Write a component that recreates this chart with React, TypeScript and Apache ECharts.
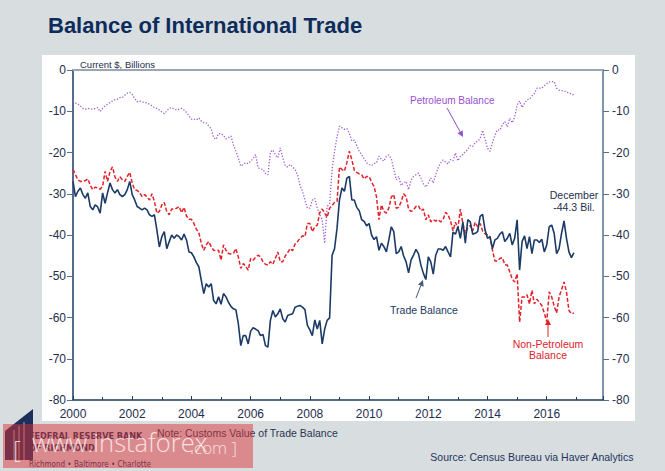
import { useEffect, useRef } from 'react';
import * as echarts from 'echarts';

// monthly values, Jan 2000 .. Dec 2016, $ billions
const START_YEAR = 2000;

const TRADE = [
  -27.0, -30.7, -29.4, -28.6, -30.2, -31.1, -29.8, -33.1, -33.9, -32.7, -33.2, -34.7,
  -29.8, -32.3, -29.8, -27.4, -29.0, -29.8, -29.0, -30.2, -30.7, -30.2, -29.0, -27.0,
  -30.2, -31.5, -33.1, -33.5, -33.9, -33.5, -33.9, -35.1, -35.5, -35.1, -38.8, -42.9,
  -40.4, -39.2, -43.3, -41.6, -40.0, -40.8, -40.0, -40.4, -41.2, -39.8, -41.2, -44.1,
  -44.3, -45.3, -46.7, -47.7, -51.0, -54.2, -51.8, -52.6, -51.8, -55.9, -56.7, -55.0,
  -56.8, -54.2, -55.0, -56.3, -57.3, -57.9, -58.1, -61.5, -66.8, -64.4, -64.4, -66.4,
  -63.3, -62.5, -62.8, -63.2, -64.4, -64.1, -66.8, -67.2, -60.7, -58.3, -59.9, -59.1,
  -57.9, -60.3, -61.1, -59.5, -59.3, -59.1, -57.5, -57.3, -57.1, -57.5, -58.1, -61.9,
  -63.0, -64.4, -60.6, -62.8, -60.7, -66.4, -62.8, -60.7, -60.1, -44.9, -43.3, -38.4,
  -31.5, -28.6, -29.4, -26.2, -25.8, -31.5, -31.5, -33.3, -34.1, -36.3, -36.7, -37.8,
  -37.2, -40.0, -41.1, -40.4, -43.7, -42.0, -42.8, -44.1, -41.2, -38.0, -39.2, -44.5,
  -44.1, -42.8, -45.1, -46.5, -49.2, -46.1, -44.9, -43.5, -44.5, -47.3, -49.3, -50.8,
  -45.3, -46.5, -49.5, -44.9, -43.4, -43.4, -43.7, -42.8, -44.1, -45.3, -39.3, -39.8,
  -38.0, -40.8, -36.8, -42.0, -36.3, -36.8, -39.8, -39.6, -39.2, -35.5, -35.0, -38.8,
  -40.8, -40.4, -43.3, -41.2, -40.8, -39.8, -39.2, -41.6, -40.8, -39.6, -42.4, -40.8,
  -36.3, -48.5, -41.6, -40.2, -43.3, -40.4, -44.5, -41.2, -41.2, -41.8, -41.0, -44.1,
  -42.4, -38.0, -37.6, -39.6, -44.5, -43.3, -39.6, -36.6, -40.8, -44.1, -45.5, -44.3,
];

const NON_PETRO = [
  -24.1, -25.4, -26.6, -27.0, -27.0, -26.8, -26.4, -28.0, -29.0, -28.4, -28.6, -28.9,
  -28.2, -24.6, -27.0, -24.6, -23.5, -25.9, -27.0, -25.9, -26.6, -27.0, -25.8, -24.8,
  -27.4, -29.0, -29.2, -29.7, -30.7, -30.2, -30.8, -31.5, -30.0, -31.9, -34.7, -34.3,
  -32.7, -32.1, -34.3, -35.1, -33.7, -33.7, -33.5, -33.1, -34.6, -33.3, -35.4, -36.2,
  -36.2, -37.2, -38.6, -39.4, -42.0, -43.7, -42.4, -41.6, -42.8, -43.7, -43.8, -43.7,
  -46.1, -42.4, -43.7, -44.5, -44.6, -44.5, -43.3, -45.3, -48.1, -46.9, -47.6, -48.5,
  -45.7, -46.1, -45.4, -44.9, -45.3, -46.5, -47.1, -47.3, -46.5, -47.1, -45.7, -44.1,
  -46.5, -46.5, -45.1, -44.3, -43.3, -43.8, -42.2, -41.6, -40.8, -40.2, -40.4, -37.2,
  -37.2, -39.2, -38.0, -37.6, -34.6, -33.7, -34.7, -35.7, -33.5, -32.9, -32.1, -31.9,
  -23.5, -24.1, -24.5, -22.4, -19.7, -21.7, -24.3, -24.8, -25.2, -25.4, -26.4, -25.8,
  -25.8, -27.2, -28.2, -30.7, -36.3, -32.7, -34.3, -34.7, -33.5, -30.8, -30.2, -33.5,
  -33.3, -31.9, -30.0, -30.7, -33.7, -34.3, -33.9, -33.1, -32.9, -34.1, -33.7, -36.3,
  -35.1, -36.8, -36.3, -36.6, -36.3, -36.8, -36.3, -34.5, -35.1, -36.6, -39.0, -36.9,
  -38.4, -33.7, -37.2, -39.6, -38.2, -37.7, -39.0, -36.9, -38.0, -37.2, -39.0, -39.7,
  -40.0, -40.4, -43.7, -46.3, -46.3, -45.7, -45.5, -47.2, -47.3, -48.9, -50.7, -51.4,
  -49.4, -61.1, -55.0, -55.0, -54.5, -56.7, -53.4, -56.7, -55.6, -56.3, -57.1, -58.9,
  -61.0, -53.8, -55.0, -57.2, -58.9, -55.0, -53.2, -51.4, -53.8, -58.3, -59.1, -58.9,
];

const PETRO = [
  -7.5, -8.0, -8.3, -8.7, -9.3, -9.5, -9.3, -9.5, -9.5, -9.3, -9.1, -10.1,
  -9.3, -8.7, -8.3, -7.9, -7.5, -7.2, -7.1, -6.7, -6.7, -6.1, -5.6, -5.4,
  -5.9, -6.9, -7.7, -7.5, -7.7, -7.9, -8.0, -8.3, -8.7, -9.1, -9.3, -9.7,
  -10.2, -10.6, -9.9, -9.3, -9.1, -9.5, -9.7, -9.5, -9.3, -9.7, -10.3, -11.1,
  -11.9, -11.9, -12.1, -11.6, -12.4, -12.8, -12.8, -13.6, -14.2, -16.4, -16.8, -15.4,
  -15.4, -15.9, -16.7, -16.4, -16.0, -18.1, -19.7, -21.3, -23.3, -22.9, -22.5, -22.7,
  -22.1, -21.5, -20.5, -23.7, -24.0, -24.1, -25.1, -25.4, -19.9, -19.4, -20.5, -21.3,
  -18.9, -21.3, -23.2, -23.5, -22.9, -23.5, -24.1, -25.4, -28.0, -29.4, -31.5, -33.5,
  -33.5, -31.6, -31.1, -33.5, -35.1, -36.3, -42.0, -33.1, -32.4, -24.1, -19.7, -16.2,
  -13.6, -14.0, -14.4, -14.2, -15.4, -17.2, -17.0, -18.3, -19.7, -20.5, -21.5, -22.5,
  -22.9, -23.2, -22.7, -22.5, -20.9, -21.7, -22.1, -20.9, -20.6, -21.5, -24.1, -26.6,
  -25.8, -28.0, -27.4, -27.0, -29.0, -26.7, -25.8, -25.4, -25.0, -26.2, -27.6, -28.4,
  -27.4, -26.2, -27.4, -25.4, -23.7, -22.5, -21.8, -22.3, -22.8, -21.7, -22.0, -20.1,
  -22.0, -20.9, -20.5, -19.8, -19.3, -18.3, -18.5, -17.6, -17.2, -16.7, -14.6, -16.8,
  -19.0, -19.7, -17.6, -15.8, -14.5, -14.6, -13.3, -12.5, -13.8, -11.7, -12.8, -11.4,
  -8.5, -7.5, -9.1, -8.1, -7.2, -7.1, -6.3, -5.7, -4.4, -4.4, -4.4, -3.8,
  -3.3, -2.9, -2.8, -2.8, -4.4, -4.9, -5.0, -5.0, -5.4, -5.5, -5.9, -6.0,
];

const Y_MIN = -80;
const Y_MAX = 0;
const X_MIN = 2000;
const X_MAX = 2017.9;

const FONT = '"Liberation Sans", Arial, sans-serif';
const NAVY = '#1b3a66';
const TEXT = '#1e2e4e';
const RED = '#e0232b';
const PURPLE = '#a05fd6';
const BG = '#d8dddf';
const WATERMARK = 'rgba(255,255,255,0.75)';

function toPoints(values: number[]): [number, number][] {
  return values.map((v, i) => [START_YEAR + i / 12, v]);
}

function arrow(x1: number, y1: number, x2: number, y2: number, color: string) {
  const a = Math.atan2(y2 - y1, x2 - x1);
  const len = 6;
  const w = 3;
  const bx = x2 - len * Math.cos(a);
  const by = y2 - len * Math.sin(a);
  return [
    { type: 'line', z: 20, shape: { x1, y1, x2: bx, y2: by }, style: { stroke: color, lineWidth: 1 } },
    {
      type: 'polygon', z: 20,
      shape: {
        points: [
          [x2, y2],
          [bx + w * Math.sin(a), by - w * Math.cos(a)],
          [bx - w * Math.sin(a), by + w * Math.cos(a)],
        ],
      },
      style: { fill: color },
    },
  ];
}

export default function App() {
  const ref = useRef<HTMLDivElement>(null);

  useEffect(() => {
    if (!ref.current) return;
    const chart = echarts.init(ref.current, null, { renderer: 'svg' });
    const last = TRADE[TRADE.length - 1];

    const axisLabel = { color: TEXT, fontSize: 12, fontFamily: FONT };
    const bankFont = '"DejaVu Sans Condensed", "DejaVu Sans", sans-serif';

    chart.setOption({
      animation: false,
      backgroundColor: BG,
      grid: { left: 73, right: 62, top: 70, bottom: 71 },
      xAxis: [
        {
          type: 'value', min: X_MIN, max: X_MAX, interval: 2,
          axisLine: { show: true, onZero: false, lineStyle: { color: NAVY, width: 1.5 } },
          axisTick: { show: true, inside: true, length: 4, lineStyle: { color: NAVY } },
          minorTick: { show: true, splitNumber: 2, length: 3, lineStyle: { color: NAVY } },
          splitLine: { show: false },
          axisLabel: {
            ...axisLabel, margin: 8, showMaxLabel: false,
            formatter: (v: number) => (v % 2 === 0 && v <= 2016 ? String(v) : ''),
          },
        },
        {
          type: 'value', min: X_MIN, max: X_MAX, position: 'top',
          axisLine: { show: true, onZero: false, lineStyle: { color: '#9aa6b6', width: 2 } },
          axisTick: { show: false }, axisLabel: { show: false }, splitLine: { show: false },
        },
      ],
      yAxis: [
        {
          type: 'value', min: Y_MIN, max: Y_MAX, interval: 10,
          axisLine: { show: true, onZero: false, lineStyle: { color: NAVY, width: 1.5 } },
          axisTick: { show: true, length: 6, lineStyle: { color: '#5c6f8c' } },
          splitLine: { show: false },
          axisLabel: { ...axisLabel, margin: 7 },
        },
        {
          type: 'value', min: Y_MIN, max: Y_MAX, interval: 10, position: 'right',
          axisLine: { show: true, onZero: false, lineStyle: { color: '#56708f', width: 1.5 } },
          axisTick: { show: true, length: 6, lineStyle: { color: '#56708f' } },
          splitLine: { show: false },
          axisLabel: { ...axisLabel, margin: 9 },
        },
      ],
      series: [
        {
          name: 'Petroleum Balance', type: 'line', data: toPoints(PETRO), showSymbol: false,
          lineStyle: { color: PURPLE, width: 1.3, type: [1.3, 1.7] }, z: 3,
        },
        {
          name: 'Non-Petroleum Balance', type: 'line', data: toPoints(NON_PETRO), showSymbol: false,
          lineStyle: { color: RED, width: 1.5, type: [4, 2] }, z: 4,
        },
        {
          name: 'Trade Balance', type: 'line', data: toPoints(TRADE), showSymbol: false,
          lineStyle: { color: NAVY, width: 1.6 }, z: 5,
        },
      ],
      graphic: [
        { type: 'rect', z: -10, shape: { x: 42, y: 55, width: 593, height: 366 }, style: { fill: '#ffffff' } },
        {
          type: 'text', left: 48, top: 14, z: 10,
          style: { text: 'Balance of International Trade', fontSize: 22, fontWeight: 'bold', fontFamily: FONT, fill: '#0d2c5c' },
        },
        {
          type: 'text', left: 80, top: 59, z: 10,
          style: { text: 'Current $, Billions', fontSize: 9.5, fontFamily: FONT, fill: TEXT },
        },
        {
          type: 'text', left: 410, top: 95, z: 10,
          style: { text: 'Petroleum Balance', fontSize: 10, fontFamily: FONT, fill: '#9a4fd0' },
        },
        ...arrow(447, 108, 463, 137, '#8e52c4'),
        {
          type: 'text', x: 574, y: 189, z: 10,
          style: { text: `December\n${last.toFixed(1)} Bil.`, fontSize: 10.5, lineHeight: 12, align: 'center', fontFamily: FONT, fill: TEXT },
        },
        {
          type: 'text', x: 424, y: 304, z: 10,
          style: { text: 'Trade Balance', fontSize: 10.5, align: 'center', fontFamily: FONT, fill: NAVY },
        },
        ...arrow(416, 298, 423, 280, '#445a7a'),
        {
          type: 'text', x: 548, y: 338, z: 10,
          style: { text: 'Non-Petroleum\nBalance', fontSize: 10.5, lineHeight: 11, align: 'center', fontFamily: FONT, fill: RED },
        },
        ...arrow(548, 337, 548, 319, RED),
        {
          type: 'text', left: 157, top: 427, z: 10,
          style: { text: 'Note: Customs Value of Trade Balance', fontSize: 10.5, fontFamily: FONT, fill: '#2a3550' },
        },
        {
          type: 'text', right: 31, top: 451, z: 10,
          style: { text: 'Source: Census Bureau via Haver Analytics', fontSize: 10.5, fontFamily: FONT, fill: '#1f3460' },
        },
        // bank logo and name, under the watermark box
        {
          type: 'polygon', z: 50,
          shape: { points: [[5, 431], [33, 409], [33, 460], [5, 460]] },
          style: { fill: '#1a2f5a' },
        },
        { type: 'line', z: 51, shape: { x1: 14, y1: 430, x2: 14, y2: 460 }, style: { stroke: '#c9a4a8', lineWidth: 1 } },
        { type: 'line', z: 51, shape: { x1: 19, y1: 426, x2: 19, y2: 460 }, style: { stroke: '#c9a4a8', lineWidth: 1 } },
        { type: 'line', z: 51, shape: { x1: 24, y1: 422, x2: 24, y2: 460 }, style: { stroke: '#c9a4a8', lineWidth: 1 } },
        {
          type: 'text', left: 29, top: 431, z: 50,
          style: { text: 'FEDERAL RESERVE BANK', fontSize: 9, fontWeight: 'bold', fontFamily: bankFont, fill: '#1a2f5a' },
        },
        {
          type: 'text', left: 29, top: 443, z: 50,
          style: { text: 'OF RICHMOND', fontSize: 9, fontWeight: 'bold', fontFamily: bankFont, fill: '#1a2f5a' },
        },
        {
          type: 'text', left: 29, top: 460, z: 50,
          style: { text: 'Richmond • Baltimore • Charlotte', fontSize: 8, fontFamily: bankFont, fill: '#1a2f5a' },
        },
        { type: 'rect', z: 60, shape: { x: 3, y: 424, width: 250, height: 44 }, style: { fill: 'rgba(220,50,55,0.49)' } },
        {
          type: 'text', left: 13, top: 436, z: 70,
          style: { text: '[', fontSize: 24, fontFamily: '"Open Sans", sans-serif', fontWeight: 300, fill: WATERMARK },
        },
        {
          type: 'text', left: 32, top: 429, z: 70,
          style: { text: 'www.instaforex', fontSize: 25.5, fontFamily: '"Open Sans", sans-serif', fontWeight: 300, fill: WATERMARK },
        },
        {
          type: 'text', left: 190, top: 439, z: 70,
          style: { text: '.com ]', fontSize: 17, fontFamily: '"Open Sans", sans-serif', fontWeight: 300, fill: WATERMARK },
        },
      ],
    });

    return () => chart.dispose();
  }, []);

  return <div ref={ref} style={{ position: 'fixed', left: 0, top: 0, width: 665, height: 471 }} />;
}
